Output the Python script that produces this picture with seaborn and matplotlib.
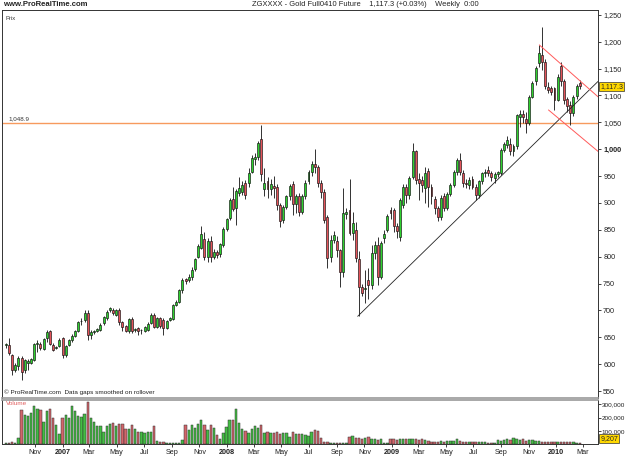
import numpy as np
import pandas as pd
import seaborn as sns
import matplotlib.pyplot as plt
from matplotlib.transforms import blended_transform_factory

sns.set_theme(style="white")
plt.rcParams['font.family'] = ['Liberation Sans', 'DejaVu Sans']

# weekly bars, first one is the week of 2006-08-28
start = "2006-08-28"

opens = [636, 636, 617, 590, 597, 611, 589, 602, 602, 608,
         638, 638, 628, 648, 661, 636, 630, 634, 648, 617,
         636, 644, 653, 661, 680, 682, 696, 654, 660, 662,
         664, 677, 685, 700, 701, 692, 701, 679, 671, 661,
         684, 664, 667, 663, 662, 664, 676, 692, 670, 685,
         682, 668, 682, 684, 710, 716, 738, 758, 757, 763,
         777, 800, 817, 832, 800, 830, 800, 808, 805, 822,
         852, 872, 907, 890, 918, 921, 937, 937, 958, 981,
         986, 1019, 926, 940, 925, 931, 929, 896, 868, 893,
         912, 935, 898, 912, 884, 913, 940, 957, 973, 966,
         937, 921, 873, 800, 831, 830, 812, 772, 880, 886,
         844, 850, 795, 744, 740, 757, 747, 806, 822, 763,
         834, 849, 887, 887, 857, 837, 896, 930, 915, 949,
         996, 945, 943, 928, 960, 930, 908, 890, 874, 912,
         890, 917, 934, 958, 980, 956, 938, 933, 945, 930,
         915, 940, 955, 962, 955, 946, 953, 955, 999, 1008,
         1010, 996, 1006, 1060, 1066, 1056, 1049, 1098, 1126, 1160,
         1176, 1163, 1116, 1113, 1113, 1092, 1154, 1126, 1094, 1082,
         1067, 1099, 1124]

highs = [640, 649, 619, 602, 615, 615, 610, 609, 612, 640,
         644, 641, 648, 664, 664, 639, 634, 648, 651, 636,
         646, 656, 664, 681, 685, 700, 701, 663, 663, 667,
         676, 690, 700, 706, 704, 703, 704, 681, 673, 686,
         687, 668, 669, 666, 671, 678, 695, 695, 688, 688,
         686, 683, 687, 712, 719, 740, 760, 760, 768, 780,
         797, 824, 857, 845, 835, 838, 815, 812, 826, 856,
         872, 910, 930, 926, 949, 940, 942, 965, 990, 993,
         1015, 1045, 965, 948, 945, 950, 935, 900, 897, 915,
         936, 940, 916, 918, 916, 942, 962, 978, 1000, 970,
         942, 925, 878, 840, 848, 838, 815, 927, 890, 944,
         884, 865, 810, 750, 775, 779, 822, 830, 837, 830,
         850, 880, 893, 890, 862, 910, 935, 935, 950, 1011,
         999, 955, 950, 967, 965, 935, 912, 895, 915, 918,
         920, 937, 962, 983, 993, 962, 945, 948, 950, 935,
         943, 958, 963, 968, 960, 958, 960, 1003, 1013, 1025,
         1020, 1010, 1066, 1073, 1073, 1070, 1100, 1126, 1155, 1194,
         1228, 1168, 1125, 1118, 1116, 1140, 1163, 1130, 1098, 1090,
         1100, 1122, 1128]

lows = [630, 617, 580, 586, 589, 571, 583, 589, 600, 606,
        623, 627, 626, 642, 635, 624, 628, 632, 611, 614,
        634, 642, 651, 659, 673, 679, 645, 646, 656, 659,
        661, 673, 683, 697, 692, 690, 673, 661, 659, 658,
        658, 660, 655, 657, 659, 661, 674, 667, 667, 668,
        654, 665, 680, 682, 708, 713, 733, 750, 752, 756,
        774, 797, 814, 793, 790, 790, 795, 798, 800, 818,
        848, 868, 885, 858, 912, 915, 908, 930, 955, 970,
        980, 940, 912, 910, 915, 910, 887, 855, 862, 888,
        905, 878, 882, 876, 880, 908, 936, 950, 955, 930,
        910, 862, 778, 790, 825, 800, 744, 763, 870, 840,
        831, 790, 690, 726, 713, 722, 740, 795, 748, 758,
        826, 845, 870, 845, 835, 830, 890, 900, 908, 945,
        935, 905, 920, 900, 893, 898, 880, 866, 868, 885,
        887, 912, 930, 952, 952, 930, 928, 925, 925, 905,
        910, 936, 948, 950, 940, 937, 948, 952, 995, 1003,
        990, 988, 1000, 1042, 1048, 1030, 1045, 1095, 1120, 1153,
        1148, 1112, 1105, 1100, 1073, 1090, 1118, 1085, 1070, 1045,
        1062, 1094, 1112]

closes = [637, 620, 589, 599, 611, 586, 608, 605, 609, 638,
          640, 630, 646, 659, 638, 627, 632, 645, 617, 634,
          644, 653, 661, 679, 681, 695, 654, 659, 661, 665,
          673, 687, 697, 704, 695, 700, 679, 670, 662, 684,
          661, 665, 661, 664, 669, 675, 692, 670, 685, 671,
          668, 680, 685, 710, 716, 738, 757, 755, 763, 775,
          795, 819, 842, 800, 830, 800, 808, 804, 823, 852,
          870, 906, 888, 922, 927, 934, 915, 955, 983, 986,
          1011, 954, 937, 926, 935, 928, 896, 866, 893, 912,
          932, 898, 912, 884, 913, 938, 957, 973, 966, 937,
          921, 868, 797, 831, 840, 812, 772, 882, 884, 844,
          862, 797, 744, 732, 742, 747, 806, 822, 763, 826,
          842, 876, 881, 857, 847, 906, 930, 915, 946, 997,
          943, 938, 933, 956, 930, 912, 890, 874, 910, 890,
          917, 934, 958, 980, 958, 937, 935, 943, 930, 915,
          940, 955, 957, 955, 948, 953, 957, 999, 1010, 1018,
          996, 1006, 1064, 1066, 1060, 1049, 1098, 1123, 1151, 1179,
          1163, 1117, 1110, 1107, 1092, 1135, 1126, 1092, 1080, 1067,
          1098, 1117, 1117.3]

# volume in thousands of contracts
volumes = [8, 8, 15, 10, 45, 255, 218, 210, 238, 286,
           268, 255, 168, 250, 268, 193, 143, 75, 200, 218,
           193, 286, 250, 210, 205, 230, 316, 200, 168, 135,
           135, 93, 135, 150, 160, 135, 148, 148, 110, 110,
           143, 110, 93, 93, 80, 93, 93, 135, 23, 13,
           13, 5, 5, 5, 5, 5, 30, 143, 105, 143,
           118, 150, 185, 143, 105, 143, 118, 68, 35, 80,
           130, 185, 185, 263, 160, 110, 98, 85, 110, 140,
           123, 143, 80, 93, 80, 85, 93, 73, 80, 80,
           55, 93, 73, 75, 75, 70, 60, 93, 105, 98,
           43, 18, 15, 8, 8, 8, 10, 5, 5, 50,
           60, 43, 43, 38, 43, 50, 35, 35, 30, 38,
           10, 10, 38, 35, 30, 35, 35, 35, 38, 38,
           35, 30, 35, 30, 25, 18, 18, 18, 23, 15,
           20, 25, 23, 35, 23, 15, 13, 15, 15, 13,
           18, 15, 15, 10, 10, 10, 30, 25, 33, 40,
           30, 45, 38, 30, 35, 25, 30, 28, 25, 20,
           15, 15, 13, 13, 15, 15, 15, 15, 15, 13,
           13, 10, 9.207]

month_dates = ["2006-11-01", "2007-01-01", "2007-03-01", "2007-05-01", "2007-07-01",
               "2007-09-01", "2007-11-01", "2008-01-01", "2008-03-01", "2008-05-01",
               "2008-07-01", "2008-09-01", "2008-11-01", "2009-01-01", "2009-03-01",
               "2009-05-01", "2009-07-01", "2009-09-01", "2009-11-01", "2010-01-01",
               "2010-03-01"]
month_labels = ["Nov", "2007", "Mar", "May", "Jul", "Sep", "Nov", "2008", "Mar", "May",
                "Jul", "Sep", "Nov", "2009", "Mar", "May", "Jul", "Sep", "Nov", "2010", "Mar"]

price_ticks = [550, 600, 650, 700, 750, 800, 850, 900, 950, 1000, 1050, 1100, 1150, 1200, 1250]
vol_ticks = [100000, 200000, 300000]

# drawn lines: (week index, price) anchors
support_x = [111.6, 172.1]
support_y = [689, 1036]
upper_x = [169.2, 187.9]
upper_y = [1194, 1097]
lower_x = [172.1, 187.9]
lower_y = [1073, 995.5]
hline_level = 1048.9

df = pd.DataFrame({"open": opens, "high": highs, "low": lows,
                   "close": closes, "volume": np.array(volumes) * 1000})
df["week"] = np.arange(len(df))
df["dir"] = np.where(df["close"] >= df["open"], "up", "down")

GREEN = "#2fd12f"
RED = "#e4535a"
W, H = 625, 469


def px_box(x0, y0, x1, y1):
    return [x0 / W, 1 - y1 / H, (x1 - x0) / W, (y1 - y0) / H]


fig = plt.figure(figsize=(6.25, 4.69), dpi=100)
axp = fig.add_axes(px_box(2, 10, 598, 398))
axv = fig.add_axes(px_box(2, 400, 598, 444))

xmin, xmax = -1.2, 187.8

# candles
axp.vlines(df["week"], df["low"], df["high"], color="#111111", lw=0.6, zorder=2)
body_lo = df[["open", "close"]].min(axis=1)
body_h = (df["close"] - df["open"]).abs().clip(lower=0.9)
colors = df["dir"].map({"up": GREEN, "down": RED})
axp.bar(df["week"], body_h, bottom=body_lo, width=0.62, color=colors,
        edgecolor="#111111", linewidth=0.45, zorder=3)

# horizontal level and trend lines
axp.axhline(hline_level, color="#f79a5e", lw=1.0, zorder=1)
axp.text(1, hline_level + 3, f"{hline_level:,.1f}", fontsize=4.5, color="#333333", va="bottom")

sx = np.array(support_x)
sy = np.array(support_y)
slope = (sy[1] - sy[0]) / (sx[1] - sx[0])
axp.plot([sx[0], xmax], [sy[0], sy[0] + slope * (xmax - sx[0])], color="#222222", lw=0.6, zorder=4)
axp.plot(upper_x, upper_y, color="#ff5a5a", lw=0.7, zorder=4)
axp.plot(lower_x, lower_y, color="#ff5a5a", lw=0.7, zorder=4)

axp.set_xlim(xmin, xmax)
axp.set_ylim(537, 1259)
axp.set_xticks([])
axp.yaxis.tick_right()
axp.set_yticks(price_ticks)
axp.set_yticklabels([f"{v:,}" for v in price_ticks])
for lab, v in zip(axp.get_yticklabels(), price_ticks):
    if v == 1000:
        lab.set_fontweight("bold")
axp.tick_params(axis="y", direction="out", length=2.5, width=0.6, pad=1.2,
                labelsize=5.2, colors="#222222", right=True, left=False)
for side in ["left", "top", "right"]:
    axp.spines[side].set_color("#333333")
    axp.spines[side].set_linewidth(0.7)
axp.spines["bottom"].set_color("#999999")
axp.spines["bottom"].set_linewidth(1.2)

trans = blended_transform_factory(axp.transAxes, axp.transData)
axp.text(1.004, closes[-1], f"{closes[-1]:,.1f}", transform=trans, fontsize=5.0,
         va="center", ha="left", clip_on=False,
         bbox=dict(boxstyle="square,pad=0.15", fc="#ffd800", ec="#333333", lw=0.5))

axp.text(0.006, 0.985, "Prix", transform=axp.transAxes, fontsize=4.2, va="top", color="#333333")
axp.text(0.004, 0.008, "© ProRealTime.com  Data gaps smoothed on rollover",
         transform=axp.transAxes, fontsize=4.6, va="bottom", color="#222222")

# volume panel
sns.barplot(data=df, x="week", y="volume", hue="dir", palette={"up": GREEN, "down": RED},
            native_scale=True, dodge=False, width=0.75, errorbar=None, legend=False,
            edgecolor="#333333", linewidth=0.35, ax=axv)
axv.set_xlim(xmin, xmax)
axv.set_ylim(0, 333000)
axv.set_xlabel("")
axv.set_ylabel("")
axv.yaxis.tick_right()
axv.set_yticks(vol_ticks)
axv.set_yticklabels([f"{v:,}" for v in vol_ticks])
axv.tick_params(axis="y", direction="out", length=2, width=0.6, pad=0.8,
                labelsize=4.6, colors="#222222", right=True, left=False)

t0 = pd.Timestamp(start)
tick_pos = [(pd.Timestamp(d) - t0).days / 7 for d in month_dates]
axv.set_xticks(tick_pos)
axv.set_xticklabels(month_labels)
for lab, txt in zip(axv.get_xticklabels(), month_labels):
    if txt.isdigit():
        lab.set_fontweight("bold")
        lab.set_fontsize(6.2)
axv.tick_params(axis="x", direction="out", length=2, width=0.6, pad=1.5,
                labelsize=5.2, colors="#222222", bottom=True)
for side in ["left", "bottom", "right"]:
    axv.spines[side].set_color("#333333")
    axv.spines[side].set_linewidth(0.7)
axv.spines["top"].set_color("#999999")
axv.spines["top"].set_linewidth(1.2)

axv.text(0.006, 0.97, "Volume", transform=axv.transAxes, fontsize=4.6, va="top", color="#e06060")
axv.text(1.004, 0.12, f"{volumes[-1] * 1000:,.0f}", transform=axv.transAxes, fontsize=5.0,
         va="center", ha="left", clip_on=False,
         bbox=dict(boxstyle="square,pad=0.15", fc="#ffd800", ec="#333333", lw=0.5))

# header
fig.text(3 / W, 1 - 5 / H, "www.ProRealTime.com", fontsize=5.6, fontweight="bold",
         color="#222222", va="center", ha="left")
fig.text(252 / W, 1 - 5 / H, "ZGXXXX - Gold Full0410 Future    1,117.3 (+0.03%)    Weekly  0:00",
         fontsize=5.4, color="#222222", va="center", ha="left")

fig.savefig("out.png", dpi=100)
